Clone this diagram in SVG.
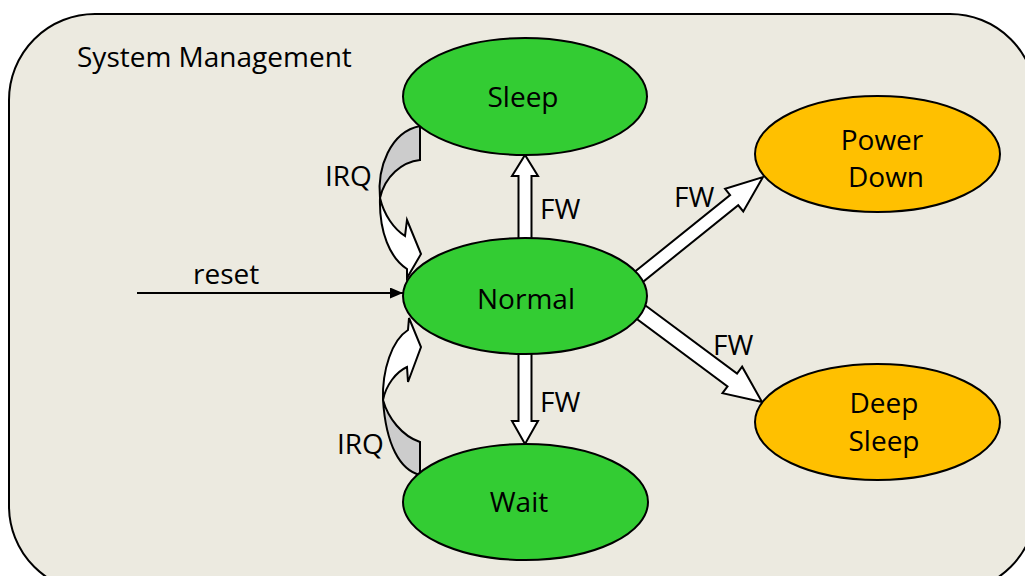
<svg xmlns="http://www.w3.org/2000/svg" width="1025" height="576" viewBox="0 0 1025 576">
  <defs>
    <style>
      text { font-family: "Open Sans", "Liberation Sans", sans-serif; font-size: 28px; fill: #000; }
      .mid { text-anchor: middle; }
      .state-green { fill: #33CC33; stroke: #000; stroke-width: 2; }
      .state-orange { fill: #FFC000; stroke: #000; stroke-width: 2; }
      .block { fill: #fff; stroke: #000; stroke-width: 2; stroke-linejoin: miter; }
      .back { fill: #CCCCCC; stroke: #000; stroke-width: 2; stroke-linejoin: miter; }
    </style>
    <marker id="head" markerWidth="13" markerHeight="11" refX="13" refY="5.5" orient="auto" markerUnits="userSpaceOnUse" viewBox="0 0 13 11">
      <path d="M0,0 L13,5.5 L0,11 Z" fill="#000"/>
    </marker>
    <!-- diagonal block arrows, tip at origin, pointing along +x -->
    <path id="diag-thin" d="M-175,-6.5 L-37,-6.5 L-37,-14.5 L0,0 L-37,14.5 L-37,6.5 L-175,6.5 Z"/>
    <path id="diag" d="M-175,-8 L-37,-8 L-37,-16.5 L0,0 L-37,16.5 L-37,8 L-175,8 Z"/>
  </defs>

  <!-- enclosing panel -->
  <rect x="9" y="14" width="1027" height="578" rx="86" ry="86" fill="#ECEAE0" stroke="#000" stroke-width="2"/>
  <text x="77" y="67">System Management</text>

  <g id="connectors">
    <!-- reset -->
    <line x1="137" y1="293" x2="403" y2="293" stroke="#000" stroke-width="2" marker-end="url(#head)"/>
    <text x="193" y="284">reset</text>

    <!-- Normal -> Sleep -->
    <polygon class="block" points="518.5,250 518.5,176 512,176 525,155 538,176 531.5,176 531.5,250"/>
    <text x="540" y="219">FW</text>

    <!-- Normal -> Wait -->
    <polygon class="block" points="518.5,345 518.5,421 512,421 525,444 538,421 531.5,421 531.5,345"/>
    <text x="540" y="412">FW</text>

    <!-- Normal -> Power Down -->
    <use href="#diag-thin" class="block" transform="translate(763,177) rotate(-38.8)"/>
    <text x="674" y="207">FW</text>

    <!-- Normal -> Deep Sleep -->
    <use href="#diag" class="block" transform="translate(762,402) rotate(36.6)"/>
    <text x="713" y="355">FW</text>

    <!-- IRQ: Sleep -> Normal -->
    <path class="back" d="M420,126 L420,160 C402,162 385,176 380,198 C377,168 390,132 420,126 Z"/>
    <path class="block" d="M380,198 C384,215 394,229 405,236 L407,220 L421,254 L407,278 L407,269 C390,258 379,232 380,198 Z"/>
    <text x="325" y="186">IRQ</text>

    <!-- IRQ: Wait -> Normal -->
    <path class="back" d="M420,442 L420,475 C400,470 386,445 383,400 C388,418 402,436 420,442 Z"/>
    <path class="block" d="M383,400 C386,385 396,372 407,367 L408,382 L421,347 L409,318 L408,330 C392,340 382,370 383,400 Z"/>
    <text x="337" y="454">IRQ</text>
  </g>

  <g id="node-sleep">
    <ellipse class="state-green" cx="525" cy="96.5" rx="122" ry="58.5"/>
    <text class="mid" x="523" y="107">Sleep</text>
  </g>

  <g id="node-normal">
    <ellipse class="state-green" cx="525" cy="296" rx="122" ry="58"/>
    <text class="mid" x="526" y="309">Normal</text>
  </g>

  <g id="node-wait">
    <ellipse class="state-green" cx="525.5" cy="502" rx="122.5" ry="58"/>
    <text class="mid" x="519" y="512">Wait</text>
  </g>

  <g id="node-power-down">
    <ellipse class="state-orange" cx="877.5" cy="154" rx="122.5" ry="58"/>
    <text class="mid" x="882" y="150">Power</text>
    <text class="mid" x="886" y="187">Down</text>
  </g>

  <g id="node-deep-sleep">
    <ellipse class="state-orange" cx="877.5" cy="422" rx="122.5" ry="58"/>
    <text class="mid" x="884" y="413">Deep</text>
    <text class="mid" x="884" y="451">Sleep</text>
  </g>
</svg>
